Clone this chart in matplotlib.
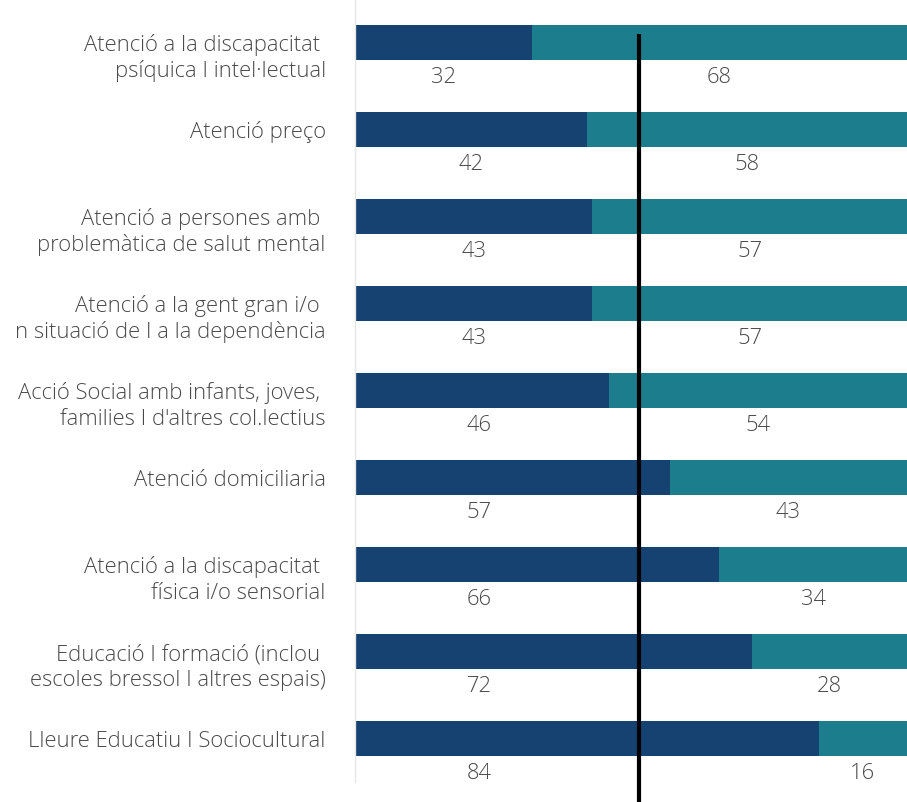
import matplotlib
matplotlib.use("Agg")
import matplotlib.pyplot as plt
import numpy as np

categories = [
    "Atenció a la discapacitat \npsíquica I intel·lectual",
    "Atenció preço",
    "Atenció a persones amb \nproblemàtica de salut mental",
    "Atenció a la gent gran i/o \nn situació de I a la dependència",
    "Acció Social amb infants, joves, \nfamilies I d'altres col.lectius",
    "Atenció domiciliaria",
    "Atenció a la discapacitat \nfísica i/o sensorial",
    "Educació I formació (inclou \nescoles bressol I altres espais)",
    "Lleure Educatiu I Sociocultural",
]
series_a = [32, 42, 43, 43, 46, 57, 66, 72, 84]
series_b = [68, 58, 57, 57, 54, 43, 34, 28, 16]
reference_value = 51.5

DARK = "#154270"
TEAL = "#1c7e8c"
TEXT = "#4a4a4a"
FS = 15.8

plt.rcParams["font.family"] = ["Open Sans", "DejaVu Sans"]

fig = plt.figure(figsize=(9.07, 8.03), dpi=100)
ax = fig.add_axes([355 / 907, 20 / 803, 552 / 907, 783 / 803])

y = np.arange(len(categories))
a = np.array(series_a)
b = np.array(series_b)
h = 0.40
ax.barh(y, a, height=h, color=DARK, linewidth=0)
ax.barh(y, b, left=a, height=h, color=TEAL, linewidth=0)

ax.set_xlim(0, 100)
ax.set_ylim(len(categories) - 0.5, -0.5)

# value labels beneath each segment (dark ones kept near the left side)
off = 0.39
for i in range(len(categories)):
    ax.text(min(a[i] / 2, 22.5), y[i] + off, f"{a[i]}", ha="center", va="center",
            fontsize=FS, color=TEXT, fontweight="light")
    ax.text(a[i] + b[i] / 2, y[i] + off, f"{b[i]}", ha="center", va="center",
            fontsize=FS, color=TEXT, fontweight="light")

# reference line
ax.vlines(reference_value, -0.1, len(categories) + 0.3, color="black",
          linewidth=3.0, clip_on=False, zorder=5)

# category labels: first line sits on the bar's centre, others hang below
for i, cat in enumerate(categories):
    for j, line in enumerate(cat.split("\n")):
        ax.annotate(line, xy=(0, y[i]), xycoords=("axes fraction", "data"),
                    xytext=(-21, -5.6 - 18.7 * j), textcoords="offset points",
                    ha="right", va="baseline", fontsize=FS, color=TEXT,
                    fontweight="light", annotation_clip=False)

ax.set_yticks([])
ax.set_xticks([])

for s in ["top", "right", "bottom"]:
    ax.spines[s].set_visible(False)
ax.spines["left"].set_color("#e6e6e6")
ax.spines["left"].set_linewidth(1.0)

fig.savefig("out.png", dpi=100)
